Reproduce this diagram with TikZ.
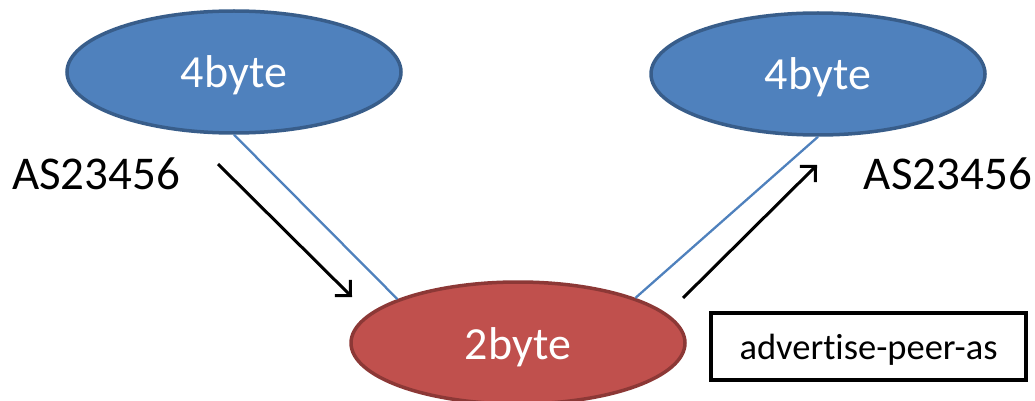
\documentclass[tikz,border=0pt]{standalone}
\usepackage{fontspec}
\setmainfont{Carlito}[Ligatures=NoCommon]
\usetikzlibrary{shapes.geometric,arrows.meta}
\definecolor{nodeblue}{HTML}{4F81BD}
\definecolor{nodeblueline}{HTML}{385D8A}
\definecolor{nodered}{HTML}{C0504D}
\definecolor{noderedline}{HTML}{8C3836}
\tikzset{
  asnode/.style={ellipse, draw, line width=3.5pt, inner sep=0pt,
    minimum width=334pt, minimum height=122pt,
    text=white, font=\fontsize{46}{55}\selectfont,
    text height=36pt, text depth=4pt},
  fourbyte/.style={asnode, fill=nodeblue, draw=nodeblueline},
  twobyte/.style={asnode, fill=nodered, draw=noderedline},
  peering/.style={draw=nodeblue, line width=2.3pt},
  flow/.style={draw=black, line width=3pt,
    -{Straight Barb[length=11pt,width=22pt,line width=3pt]}},
  aslabel/.style={inner sep=0pt, font=\fontsize{47}{56}\selectfont},
  optbox/.style={draw=black, line width=4pt, inner sep=0pt,
    minimum width=315pt, minimum height=67pt,
    font=\fontsize{36.5}{44}\selectfont, text height=29pt, text depth=4pt}
}
\begin{document}
\begin{tikzpicture}[x=1pt,y=-1pt]
  \useasboundingbox (0,0) rectangle (1035,401);

  % speakers
  \node[fourbyte] (left)  at (234,72)  {4byte};
  \node[fourbyte] (right) at (818,74)  {4byte};
  \node[twobyte]  (mid)   at (518,343) {2byte};

  % sessions
  \draw[peering] (left.south) -- (mid.160);
  \draw[peering] (mid.21) -- (right.south);

  % path attribute flow
  \coordinate (inA)  at (218,164);
  \coordinate (inB)  at (352,297);
  \coordinate (outA) at (683,298);
  \coordinate (outB) at (817,165);
  \draw[flow] (inA) -- (inB);
  \draw[flow] (outA) -- (outB);

  \node[aslabel, anchor=base west] (asin)  at (12,189)   {AS23456};
  \node[aslabel, anchor=base east] (asout) at (1032,189) {AS23456};

  \node[optbox] (opt) at (868.5,346.5) {advertise-peer-as};
\end{tikzpicture}
\end{document}
